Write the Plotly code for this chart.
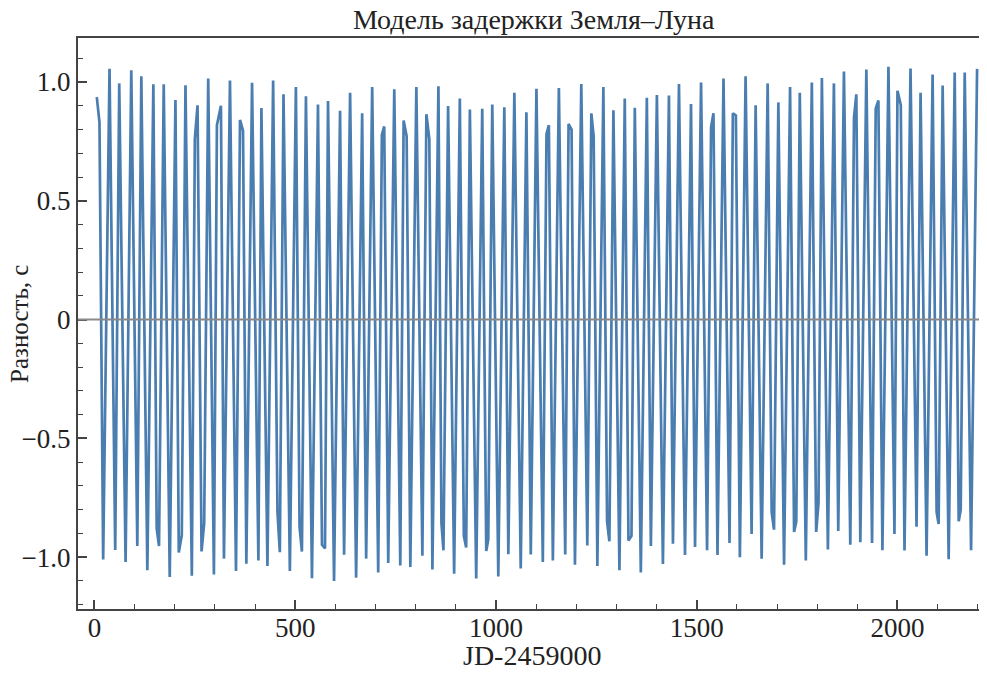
import plotly.graph_objects as go

# Time (JD-2459000) and delay difference (s)
jd = [
    5.8, 12.5, 21.7, 37.5, 51.7, 61.7, 77.5, 91.7, 106.7, 116.7, 131.7, 146.7, 155.0, 160.8,
    172.5, 187.5, 201.7, 210.0, 217.5, 226.7, 242.5, 250.0, 256.7, 266.7, 273.3, 283.3,
    297.5, 305.0, 315.0, 322.5, 337.5, 352.5, 362.5, 370.0, 378.3, 392.5, 408.3,
    415.8, 430.8, 445.0, 455.8, 461.7, 470.8, 486.7, 501.7, 510.8, 516.7, 526.7, 541.7,
    556.7, 566.7, 574.2, 581.7, 596.7, 611.7, 621.7, 636.7, 651.7, 666.7, 676.7, 691.7,
    706.7, 715.8, 721.7, 731.7, 746.7, 761.7, 770.0, 777.5, 786.7, 801.7, 816.7, 826.7,
    834.0, 841.7, 856.7,
    864.2, 869.2, 880.8, 895.8, 910.0, 920.0, 925.8, 935.0, 950.8, 965.8, 975.8, 980.8,
    990.8, 1005.8, 1020.8, 1030.8, 1045.8, 1061.7, 1075.8, 1086.7, 1100.8, 1116.7, 1125.8,
    1131.7, 1141.7, 1156.7, 1172.5, 1180.8, 1188.3, 1196.7, 1212.5, 1227.5, 1237.5, 1243.3,
    1252.5, 1267.5, 1276.7, 1282.5, 1292.5, 1307.5,
    1320.8, 1330.0, 1337.5, 1345.8, 1360.8, 1375.8, 1385.8, 1400.8, 1415.8, 1430.8, 1440.8,
    1455.8, 1470.8, 1485.8, 1495.8, 1510.8, 1525.8, 1535.8, 1541.7, 1551.7, 1566.7, 1581.7,
    1590.0, 1597.5, 1607.5, 1621.7, 1636.7, 1646.7, 1661.7, 1676.7, 1686.7, 1692.5, 1703.3,
    1717.5, 1732.5, 1742.5, 1748.0, 1756.7,
    1771.7, 1786.7, 1797.5, 1803.3, 1811.7, 1826.7, 1841.7, 1852.5, 1866.7, 1882.5, 1891.7,
    1897.5, 1907.5, 1922.5, 1936.7, 1945.8, 1952.5, 1962.5, 1977.5, 1992.5, 2000.0, 2008.3,
    2017.5, 2032.5, 2047.5, 2057.5, 2072.5, 2087.5, 2097.5, 2102.5, 2112.5, 2127.5, 2142.5,
    2152.5, 2157.5, 2167.5, 2183.3, 2198.3,
]
diff = [
    0.936, 0.83, -1.01, 1.055, -0.97, 0.994, -1.02, 1.049, -0.953, 1.024, -1.055, 0.99, -0.879, -0.953,
    0.99, -1.083, 0.924, -0.98, -0.907, 0.986, -1.078, 0.76, 0.902, -0.976, -0.856, 1.015,
    -1.073, 0.818, 0.90, -1.006, 1.006, -1.058, 0.84, 0.795, -1.028, 0.997, -1.014,
    0.89, -1.037, 1.006, -0.81, -0.979, 0.948, -1.058, 0.979, -0.872, -0.976, 0.94, -1.089,
    0.905, -0.948, -0.963, 0.92, -1.10, 0.879, -0.99, 0.955, -1.086, 0.868, -1.006, 0.979,
    -1.064, 0.777, 0.813, -1.024, 0.969, -1.035, 0.838, 0.772, -1.041, 0.979, -0.994, 0.864,
    0.76, -1.052, 0.982,
    -0.856, -0.971, 0.899, -1.07, 0.93, -0.91, -0.959, 0.884, -1.09, 0.887, -0.974, -0.925,
    0.905, -1.081, 0.894, -0.988, 0.955, -1.047, 0.872, -0.989, 0.971, -1.02, 0.78,
    0.818, -1.014, 0.974, -0.989, 0.823, 0.80, -1.032, 0.991, -0.951, 0.868, 0.772,
    -1.037, 0.979, -0.849, -0.933, 0.881, -1.055,
    0.93, -0.93, -0.91, 0.891, -1.064, 0.933, -0.953, 0.945, -1.029, 0.943, -0.943,
    0.991, -0.991, 0.907, -0.957, 0.998, -0.971, 0.81, 0.868, -0.991, 1.014, -0.94,
    0.868, 0.859, -1.0, 1.024, -0.902, 0.902, -1.006, 0.994, -0.81, -0.884, 0.914,
    -1.032, 0.979, -0.894, -0.85, 0.955,
    -1.014, 0.998, -0.894, -0.772, 1.017, -0.968, 0.994, -0.89, 1.044, -0.948, 0.849,
    0.948, -0.937, 1.052, -0.94, 0.887, 0.922, -0.971, 1.064, -0.902, 0.963, 0.902,
    -0.972, 1.057, -0.872, 0.955, -0.994, 1.031, -0.81, -0.86, 0.985, -1.009, 1.04,
    -0.849, -0.80, 1.04, -0.971, 1.055,
]

y_tick_vals = [-1.0, -0.5, 0.0, 0.5, 1.0]
y_tick_text = ["\u22121.0", "\u22120.5", "0", "0.5", "1.0"]
x_tick_vals = [0, 500, 1000, 1500, 2000]
x_tick_text = ["0", "500", "1000", "1500", "2000"]

FONT = "Liberation Serif"
AXIS_COL = "#444444"
TEXT_COL = "#222222"
TICK_SIZE = 27
TITLE_SIZE = 28
YTITLE_SIZE = 25

# The page body adds an 8 px margin, so the figure is sized to fit the 987x674 window.
fig = go.Figure()
fig.add_trace(go.Scatter(
    x=jd, y=diff, mode="lines",
    line=dict(color="#4a7db0", width=2.7),
    hoverinfo="skip", showlegend=False,
))
fig.add_hline(y=0, line=dict(color="#8a8a8a", width=2), layer="above")

fig.update_layout(
    width=979, height=666,
    margin=dict(l=70, r=2, t=30, b=65, pad=0),
    paper_bgcolor="white", plot_bgcolor="white",
    font=dict(family=FONT, size=TICK_SIZE, color=TEXT_COL),
    title=dict(text="Модель задержки Земля\u2013Луна", x=0.537, xanchor="center",
               y=0.983, yanchor="middle", font=dict(family=FONT, size=TITLE_SIZE, color=TEXT_COL)),
    showlegend=False,
)
fig.update_xaxes(
    range=[-41, 2218], showgrid=False, zeroline=False, automargin=False,
    tickmode="array", tickvals=x_tick_vals, ticktext=x_tick_text,
    ticks="inside", ticklen=9, tickwidth=1.5, tickcolor=AXIS_COL,
    minor=dict(ticks="inside", dtick=100, tick0=0, ticklen=5, tickwidth=1.2, tickcolor=AXIS_COL),
    showline=True, linecolor=AXIS_COL, linewidth=2, mirror=True,
    ticklabelstandoff=-6,
    tickfont=dict(family=FONT, size=TICK_SIZE),
)
fig.update_yaxes(
    range=[-1.218, 1.185], showgrid=False, zeroline=False, automargin=False,
    tickmode="array", tickvals=y_tick_vals, ticktext=y_tick_text,
    ticks="inside", ticklen=9, tickwidth=1.5, tickcolor=AXIS_COL,
    minor=dict(ticks="inside", dtick=0.1, tick0=0, ticklen=5, tickwidth=1.2, tickcolor=AXIS_COL),
    showline=True, linecolor=AXIS_COL, linewidth=2, mirror=False,
    tickfont=dict(family=FONT, size=TICK_SIZE),
)
# axis titles placed as annotations for exact positioning
fig.add_annotation(text="JD-2459000", xref="paper", yref="paper", x=0.5, y=-0.081,
                   xanchor="center", yanchor="middle", showarrow=False,
                   font=dict(family=FONT, size=TITLE_SIZE, color=TEXT_COL))
fig.add_annotation(text="Разность, с", xref="paper", yref="paper", x=-0.0645, y=0.5,
                   xanchor="center", yanchor="middle", textangle=-90, showarrow=False,
                   font=dict(family=FONT, size=YTITLE_SIZE, color=TEXT_COL))

fig.write_html("out.html")
